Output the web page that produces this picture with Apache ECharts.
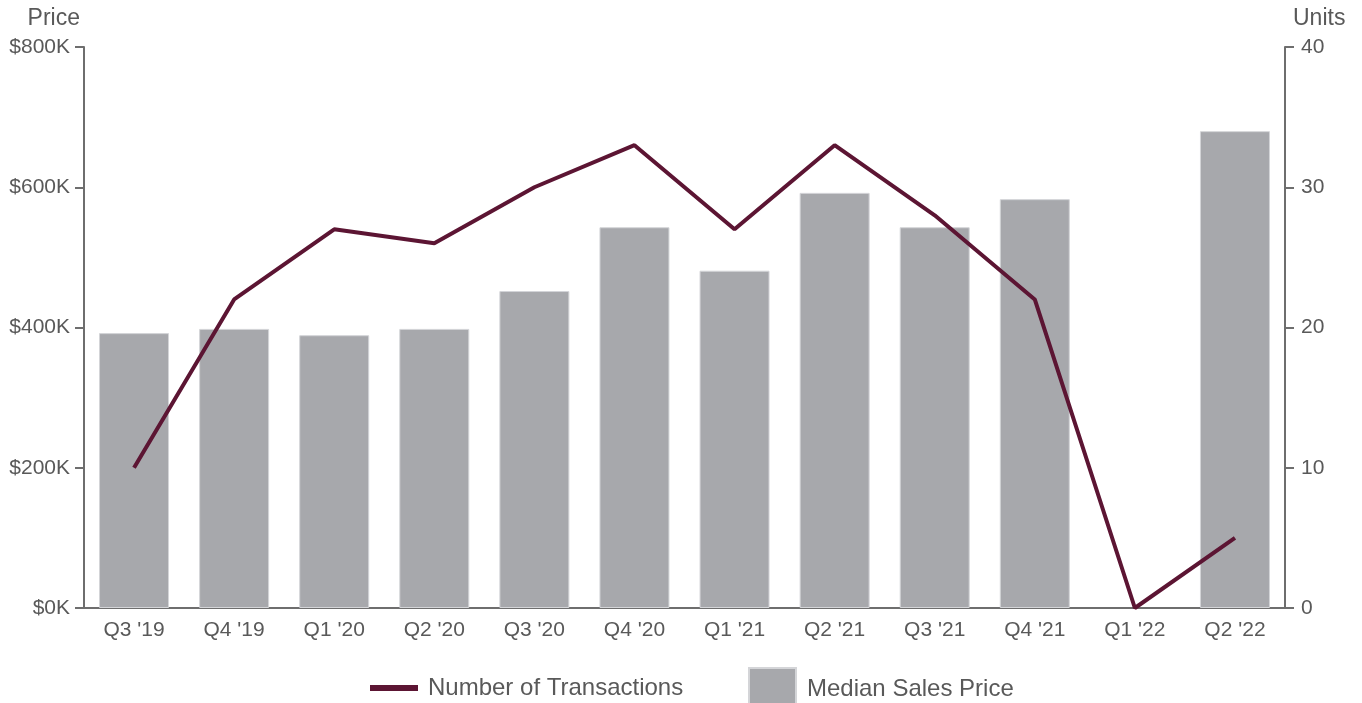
<!DOCTYPE html>
<html>
<head>
<meta charset="utf-8">
<script src="https://cdn.jsdelivr.net/npm/echarts@6/dist/echarts.min.js"></script>
<style>
  html, body { margin: 0; padding: 0; background: #fff; }
  #chart { width: 1362px; height: 703px; }
</style>
</head>
<body>
<div id="chart"></div>
<script>
const quarters = ["Q3 '19", "Q4 '19", "Q1 '20", "Q2 '20", "Q3 '20", "Q4 '20", "Q1 '21", "Q2 '21", "Q3 '21", "Q4 '21", "Q1 '22", "Q2 '22"];
// median sales price, in $K (no sales price shown for Q1 '22)
const medianPrice = [392, 398, 389, 398, 452, 543, 481, 592, 543, 583, null, 680];
// number of transactions
const transactions = [10, 22, 27, 26, 30, 33, 27, 33, 28, 22, 0, 5];

const textColor = '#595959';
const axisColor = '#6e6e6e';
const lineColor = '#5c1533';
const barColor = '#a7a8ac';
const font = 'Liberation Sans, Arial, sans-serif';

const chart = echarts.init(document.getElementById('chart'));

chart.setOption({
  animation: false,
  textStyle: { fontFamily: font },
  grid: { left: 84, right: 77, top: 47, bottom: 95, containLabel: false },
  legend: [
    {
      data: [{ name: 'Number of Transactions', icon: 'rect', itemStyle: { color: lineColor } }],
      left: 370,
      top: 676,
      padding: 0,
      itemWidth: 48,
      itemHeight: 6,
      textStyle: { fontSize: 24, color: textColor, fontFamily: font, padding: [0, 0, 0, 5] }
    },
    {
      data: [{ name: 'Median Sales Price', icon: 'rect' }],
      left: 748,
      top: 667,
      padding: 0,
      itemWidth: 47,
      itemHeight: 42,
      textStyle: { fontSize: 24, color: textColor, fontFamily: font, padding: [0, 0, 0, 6] }
    }
  ],
  xAxis: {
    type: 'category',
    data: quarters,
    axisLine: { lineStyle: { color: axisColor, width: 2 } },
    axisTick: { alignWithLabel: true, length: 8, lineStyle: { color: axisColor, width: 2 } },
    axisLabel: { color: textColor, fontSize: 21, margin: 12, fontFamily: font },
    splitLine: { show: false }
  },
  yAxis: [
    {
      type: 'value',
      min: 0,
      max: 800,
      interval: 200,
      name: 'Price',
      nameLocation: 'end',
      nameGap: 17,
      nameTextStyle: { color: textColor, fontSize: 23, align: 'right', padding: [0, 4, 0, 0], fontFamily: font },
      axisLine: { show: true, lineStyle: { color: axisColor, width: 2 } },
      axisTick: { show: true, length: 9, lineStyle: { color: axisColor, width: 2 } },
      axisLabel: { color: textColor, fontSize: 21, margin: 14, fontFamily: font, formatter: v => '$' + v + 'K' },
      splitLine: { show: false }
    },
    {
      type: 'value',
      min: 0,
      max: 40,
      interval: 10,
      name: 'Units',
      nameLocation: 'end',
      nameGap: 17,
      nameTextStyle: { color: textColor, fontSize: 23, align: 'left', padding: [0, 0, 0, 8], fontFamily: font },
      axisLine: { show: true, lineStyle: { color: axisColor, width: 2 } },
      axisTick: { show: true, length: 9, lineStyle: { color: axisColor, width: 2 } },
      axisLabel: { color: textColor, fontSize: 21, margin: 16, fontFamily: font },
      splitLine: { show: false }
    }
  ],
  series: [
    {
      name: 'Median Sales Price',
      type: 'bar',
      yAxisIndex: 0,
      data: medianPrice,
      barWidth: 70,
      itemStyle: { color: barColor, borderColor: '#d4d5d8', borderWidth: 1 }
    },
    {
      name: 'Number of Transactions',
      type: 'line',
      yAxisIndex: 1,
      data: transactions,
      symbol: 'none',
      lineStyle: { color: lineColor, width: 4 },
      itemStyle: { color: lineColor },
      z: 3
    }
  ]
});
</script>
</body>
</html>
